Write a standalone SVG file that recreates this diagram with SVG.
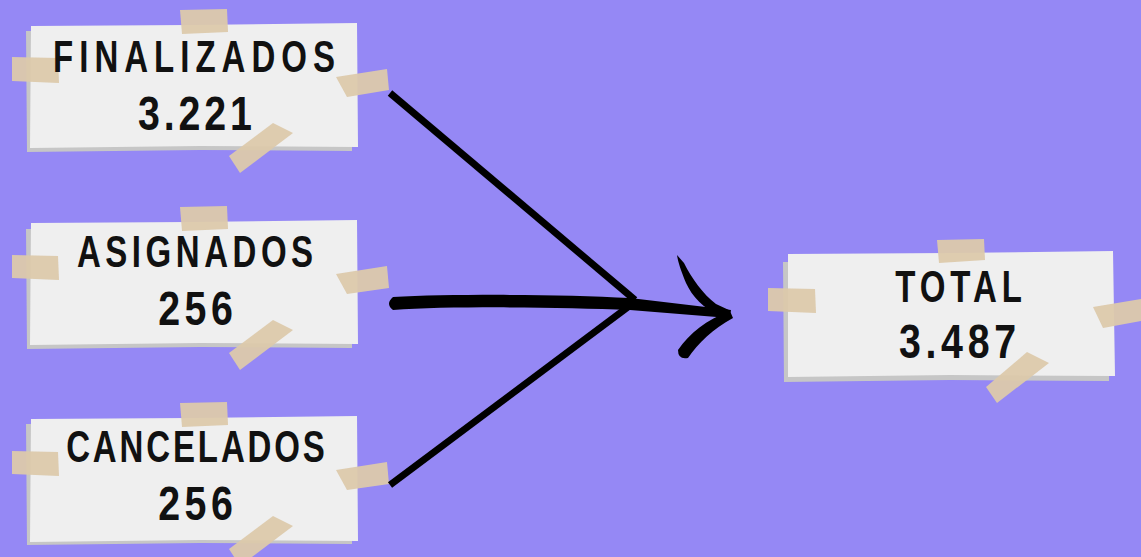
<svg xmlns="http://www.w3.org/2000/svg" width="1141" height="557" viewBox="0 0 1141 557">
<defs>
<style>
.shadow{fill:#c6c6c6}
.paper{fill:#efefef}
.tape{fill:#dcc9ab;opacity:0.95}
.lbl{font-family:"Liberation Sans","DejaVu Sans",sans-serif;font-weight:bold;fill:#111;text-anchor:middle}
.t1{font-size:44px}
.t2{font-size:48px}
.line{stroke:#000;stroke-width:7;fill:none}
</style>
</defs>
<rect width="1141" height="557" fill="#9588f5"/>

<g id="node-finalizados">
<polygon class="shadow" points="26,31 352,31 352,151 200,150 27,152"/>
<polygon class="paper" points="31,26 190,25 357,23 358,147 200,146 30,148"/>
<polygon class="tape" points="180,10 227,9 228,32 182,34"/>
<polygon class="tape" points="12,57 58,58 59,83 12,81"/>
<polygon class="tape" points="336,77 387,69 389,90 347,97"/>
<polygon class="tape" points="229,156 273,123 293,133 240,173"/>
<text class="lbl t1" transform="translate(194 72) scale(0.75 1)" textLength="376" lengthAdjust="spacing">FINALIZADOS</text>
<text class="lbl t2" transform="translate(195 130) scale(0.82 1)" textLength="139" lengthAdjust="spacing">3.221</text>
</g>

<g id="node-asignados">
<polygon class="shadow" points="26,229 352,229 352,348 200,347 27,349"/>
<polygon class="paper" points="31,223 190,222 357,220 358,344 200,343 30,345"/>
<polygon class="tape" points="180,207 227,206 228,229 182,231"/>
<polygon class="tape" points="12,255 58,256 59,280 12,278"/>
<polygon class="tape" points="336,274 387,266 389,288 347,294"/>
<polygon class="tape" points="229,353 273,320 293,330 240,370"/>
<text class="lbl t1" transform="translate(195 267) scale(0.75 1)" textLength="315" lengthAdjust="spacing">ASIGNADOS</text>
<text class="lbl t2" transform="translate(195.5 325) scale(0.82 1)" textLength="91" lengthAdjust="spacing">256</text>
</g>

<g id="node-cancelados">
<polygon class="shadow" points="26,424 352,424 352,544 200,543 27,545"/>
<polygon class="paper" points="31,419 190,418 357,416 358,541 200,540 30,542"/>
<polygon class="tape" points="180,403 227,402 228,425 182,427"/>
<polygon class="tape" points="12,451 58,452 59,476 12,474"/>
<polygon class="tape" points="336,470 387,462 389,484 347,490"/>
<polygon class="tape" points="229,549 273,516 293,526 240,566"/>
<text class="lbl t1" transform="translate(195.5 462) scale(0.75 1)" textLength="345" lengthAdjust="spacing">CANCELADOS</text>
<text class="lbl t2" transform="translate(195.5 520) scale(0.82 1)" textLength="91" lengthAdjust="spacing">256</text>
</g>

<g id="node-total">
<polygon class="shadow" points="783,262 1109,262 1109,381 950,380 784,382"/>
<polygon class="paper" points="788,254 950,253 1113,251 1115,376 950,375 788,377"/>
<polygon class="tape" points="937,240 984,239 985,260 939,263"/>
<polygon class="tape" points="768,288 815,289 816,313 768,311"/>
<polygon class="tape" points="1093,307 1141,299 1141,321 1103,328"/>
<polygon class="tape" points="986,387 1027,352 1049,363 997,403"/>
<text class="lbl t1" transform="translate(958.5 302) scale(0.75 1)" textLength="169" lengthAdjust="spacing">TOTAL</text>
<text class="lbl t2" transform="translate(957.5 358) scale(0.82 1)" textLength="143" lengthAdjust="spacing">3.487</text>
</g>

<g id="connectors">
<line class="line" x1="390" y1="93" x2="635" y2="300"/>
<line class="line" x1="390" y1="485" x2="628" y2="307"/>
<path fill="#000" d="M 393,297 C 450,294 560,294 630,298 L 731,310 L 729,318 L 630,310 C 560,307 450,306 393,310 Q 385,304 393,297 Z"/>
<path fill="#000" d="M 677,255 L 684,263 C 692,279 703,294 716,304 L 731,311 L 722,316 C 703,309 692,296 686,283 C 681,271 678,262 677,255 Z"/>
<path fill="#000" d="M 678,350 C 690,333 706,320 730,311 L 733,318 C 713,329 698,343 688,358 Q 678,360 678,350 Z"/>
</g>
</svg>
